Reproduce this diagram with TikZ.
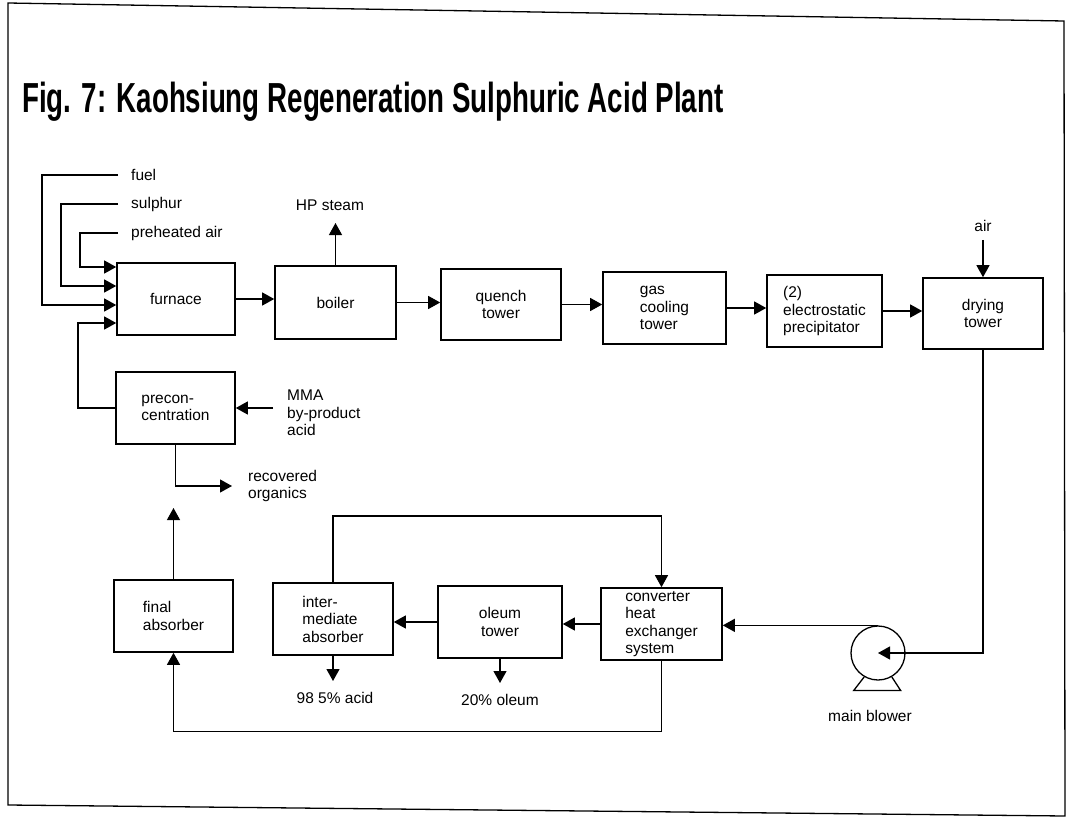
\documentclass[tikz,border=0pt]{standalone}
\usepackage{fontspec}
\usepackage{graphicx}
\setmainfont{Liberation Sans}
\usetikzlibrary{arrows.meta}
\tikzset{
  box/.style={draw, line width=1.6pt, inner sep=0pt, font=\fontsize{15.5}{17.5}\selectfont},
  lbl/.style={inner sep=0pt, font=\fontsize{15.5}{17.5}\selectfont},
  flow/.style={line width=1.2pt, -{Triangle[length=12pt,width=13pt]}},
  frame/.style={line width=1.3pt}
}
\begin{document}
\begin{tikzpicture}[x=1pt,y=-1pt]
\useasboundingbox (0,0) rectangle (1072,819);
% frame
\draw[frame] (8,3) -- (1064,21) -- (1065,816) -- (8,805) -- cycle;
% title
\node[anchor=base west, inner sep=0pt, font=\bfseries\fontsize{42}{42}\selectfont] (title) at (22,112)
  {\scalebox{0.66}[1]{Fig. 7: Kaohsiung Regeneration Sulphuric Acid Plant}};
% boxes
\node[box, minimum width=118pt, minimum height=72pt] (furnace) at (176,299) {furnace};
\node[box, minimum width=121pt, minimum height=73pt] (boiler) at (335.5,302.5) {boiler};
\node[box, minimum width=120pt, minimum height=71pt, align=center] (quench) at (501,304.5) {quench\\tower};
\node[box, minimum width=123pt, minimum height=72pt, align=left] (gascool) at (664.5,308) {gas\\cooling\\tower};
\node[box, minimum width=115pt, minimum height=72pt, align=left] (esp) at (824.5,311) {(2)\\electrostatic\\precipitator};
\node[box, minimum width=120pt, minimum height=71pt, align=center] (drying) at (983,313.5) {drying\\tower};
\node[box, minimum width=119pt, minimum height=72pt, align=left] (precon) at (175.5,408) {precon-\\centration};
\node[box, minimum width=119pt, minimum height=72pt, align=left] (final) at (173.5,616) {final\\absorber};
\node[box, minimum width=120pt, minimum height=72pt, align=left] (inter) at (333,619) {inter-\\mediate\\absorber};
\node[box, minimum width=124pt, minimum height=72pt, align=center] (oleum) at (500,622) {oleum\\tower};
\node[box, minimum width=121pt, minimum height=72pt, align=left] (conv) at (661.5,624) {converter\\heat\\exchanger\\system};
\node[circle, draw, line width=1.3pt, minimum size=54pt, inner sep=0pt] (blower) at (878,653) {};
% labels
\node[lbl, anchor=west] (fuel) at (131,175) {fuel};
\node[lbl, anchor=west] (sulphur) at (131,204) {sulphur};
\node[lbl, anchor=west] (pair) at (131,233) {preheated air};
\node[lbl] (steam) at (330,205) {HP steam};
\node[lbl] (air) at (983,226) {air};
\node[lbl, anchor=west, align=left] (mma) at (287,413) {MMA\\by-product\\acid};
\node[lbl, anchor=west, align=left] (recov) at (248,486) {recovered\\organics};
\node[lbl] (acid) at (335,698) {98 5\% acid};
\node[lbl] (oleumout) at (500,700) {20\% oleum};
\node[lbl] (blowlbl) at (870,716) {main blower};
% coordinates
\coordinate (fuelC) at (42,305);
\coordinate (sulC) at (61,286);
\coordinate (airC) at (80,267);
\coordinate (pcC) at (78,323);
\coordinate (mmaS) at (273,408);
\coordinate (finUp) at (175,508);
\coordinate (loopL) at (333,516);
\coordinate (steamTip) at (335,223);
\coordinate (acidTip) at (333,681);
\coordinate (oleumTip) at (500,683);
% furnace inputs
\draw[flow, shorten <=13pt] (fuel.west) -| (fuelC) -- (furnace.west |- fuelC);
\draw[flow, shorten <=13pt] (sulphur.west) -| (sulC) -- (furnace.west |- sulC);
\draw[flow, shorten <=13pt] (pair.west) -| (airC) -- (furnace.west |- airC);
\draw[flow] (precon.west) -| (pcC) -- (furnace.west |- pcC);
% top row
\draw[flow] (furnace.east) -- (boiler.west |- furnace.east);
\draw[flow] (boiler.east) -- (quench.west |- boiler.east);
\draw[flow] (quench.east) -- (gascool.west |- quench.east);
\draw[flow] (gascool.east) -- (esp.west |- gascool.east);
\draw[flow] (esp.east) -- (drying.west |- esp.east);
\draw[flow] (boiler.north) -- (boiler.north |- steamTip);
\draw[flow, shorten <=8pt] (air.south) -- (drying.north);
% preconcentration
\draw[flow] (mmaS) -- (precon.east);
\draw[flow] (precon.south) |- ([xshift=-16pt]recov.west);
\draw[flow] (final.north) -- (final.north |- finUp);
% bottom row
\draw[flow] (inter.north) -- (inter.north |- loopL) -| (conv.north);
\draw[flow] (conv.west) -- (oleum.east |- conv.west);
\draw[flow] (oleum.west) -- (inter.east |- oleum.west);
\draw[flow] (inter.south) -- (inter.south |- acidTip);
\draw[flow] (oleum.south) -- (oleum.south |- oleumTip);
\draw[flow] (conv.south) -- ++(0,71) -| (final.south);
% blower
\draw[flow] (drying.south) |- (blower.center);
\draw[flow] (blower.north) -- (conv.east |- blower.north);
\draw[line width=1.3pt] (blower.-120) -- ++(-10.5,13.6) -- ++(47,0) -- (blower.-60);
\end{tikzpicture}
\end{document}
